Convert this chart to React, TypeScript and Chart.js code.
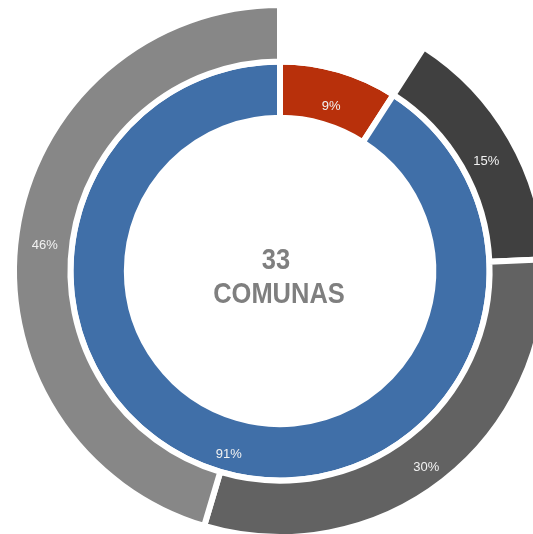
import React, { useEffect, useRef } from "react";
import { Chart, registerables } from "chart.js";

Chart.register(...registerables);

// ---- Data (percent of 33 comunas) ----
const innerCategories = ["Grupo A", "Grupo B"];
const innerValues = [9.1, 90.9];
const innerLabels = ["9%", "91%"];
const innerColors = ["#B8300B", "#406FA8"];

const outerCategories = ["Tramo 1", "Tramo 2", "Tramo 3"];
const outerValues = [15.2, 30.3, 45.4];
const outerLabels = ["15%", "30%", "46%"];
const outerColors = ["#404040", "#626262", "#878787"];

const centerNumber = "33";
const centerLabel = "COMUNAS";

const labelPlugin = {
  id: "ringLabels",
  afterDatasetsDraw(chart: any) {
    const ctx = chart.ctx;
    ctx.save();
    ctx.font = "13px 'Liberation Sans', Arial, sans-serif";
    ctx.fillStyle = "#F2F2F2";
    ctx.textAlign = "center";
    ctx.textBaseline = "middle";
    chart.data.datasets.forEach((ds: any, di: number) => {
      const meta = chart.getDatasetMeta(di);
      meta.data.forEach((arc: any, i: number) => {
        const txt = ds.pctLabels ? ds.pctLabels[i] : null;
        if (!txt) return;
        const p = arc.getProps(["x", "y", "startAngle", "endAngle", "innerRadius", "outerRadius"], true);
        const a = (p.startAngle + p.endAngle) / 2;
        const r = (p.innerRadius + p.outerRadius) / 2;
        ctx.fillText(txt, p.x + Math.cos(a) * r, p.y + Math.sin(a) * r + 9);
      });
    });
    // center text
    const area = chart.chartArea;
    const cx = (area.left + area.right) / 2;
    const cy = (area.top + area.bottom) / 2;
    ctx.fillStyle = "#7F7F7F";
    ctx.font = "bold 30px 'Liberation Sans', Arial, sans-serif";
    const drawNarrow = (t: string, x: number, y: number) => {
      ctx.save();
      ctx.translate(x, y);
      ctx.scale(0.85, 1);
      ctx.fillText(t, 0, 0);
      ctx.restore();
    };
    drawNarrow(centerNumber, cx - 4, cy - 10);
    drawNarrow(centerLabel, cx - 1, cy + 24);
    ctx.restore();
  },
};

export default function App() {
  const ref = useRef<HTMLCanvasElement | null>(null);
  useEffect(() => {
    if (!ref.current) return;
    const chart = new Chart(ref.current, {
      type: "doughnut",
      data: {
        labels: ["", ...outerCategories],
        datasets: [
          {
            data: [innerValues[0], ...outerValues],
            backgroundColor: ["rgba(0,0,0,0)", ...outerColors],
            borderColor: "#FFFFFF",
            borderWidth: 6,
            pctLabels: [null, ...outerLabels],
          } as any,
          {
            data: innerValues,
            backgroundColor: innerColors,
            borderColor: "#FFFFFF",
            borderWidth: 6,
            pctLabels: innerLabels,
            labelsCat: innerCategories,
          } as any,
        ],
      },
      options: {
        responsive: false,
        animation: false,
        devicePixelRatio: 1,
        radius: 266,
        cutout: 159.5,
        layout: { padding: 0 },
        events: [],
        plugins: {
          legend: { display: false },
          tooltip: { enabled: false },
        },
      } as any,
      plugins: [labelPlugin],
    });
    return () => chart.destroy();
  }, []);
  return (
    <div
      style={{
        position: "fixed",
        left: 0,
        top: 0,
        width: 533,
        height: 534,
        overflow: "hidden",
        background: "#FFFFFF",
      }}
    >
      <canvas
        ref={ref}
        width={560}
        height={560}
        style={{ position: "absolute", left: 0, top: -9, width: 560, height: 560 }}
      />
    </div>
  );
}
